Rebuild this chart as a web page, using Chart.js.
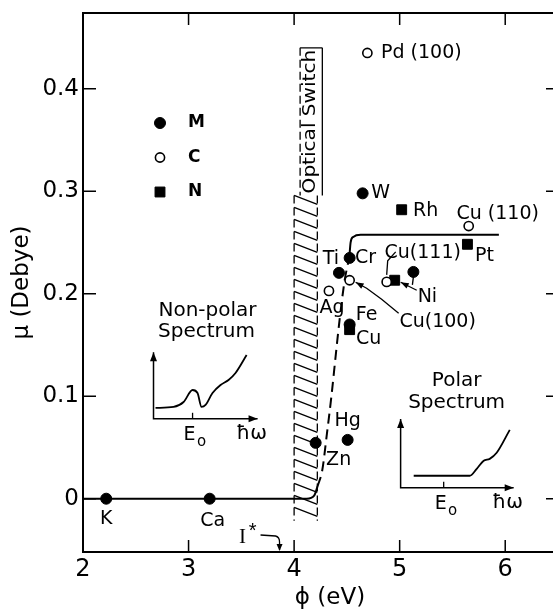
<!DOCTYPE html>
<html>
<head>
<meta charset="utf-8">
<script src="https://cdn.jsdelivr.net/npm/chart.js@4.4.1/dist/chart.umd.min.js"></script>
<style>
  html, body { margin: 0; padding: 0; background: #fff; overflow: hidden; }
  #wrap { width: 553px; height: 613px; overflow: hidden; }
</style>
</head>
<body>
<div id="wrap"><canvas id="dipoleChart" width="559" height="613"></canvas></div>
<script>
// work function phi (eV) against dipole moment mu (Debye)
const xTicks = [2, 3, 4, 5, 6];
const yTicks = [0, 0.1, 0.2, 0.3, 0.4];

// M : filled circles
const mNames = ["K", "Ca", "Zn", "Hg", "Fe", "Ti", "Cr", "W", "Ni"];
const mX = [2.22, 3.2, 4.204, 4.507, 4.526, 4.425, 4.526, 4.649, 5.13];
const mY = [0, 0, 0.0545, 0.0574, 0.170, 0.2204, 0.235, 0.298, 0.2213];

// C : open circles
const cNames = ["Ag", "Cu(100)", "Cu(111)", "Cu (110)", "Pd (100)"];
const cX = [4.33, 4.526, 4.877, 5.654, 4.694];
const cY = [0.2028, 0.2132, 0.2116, 0.2661, 0.435];

// N : filled squares
const nNames = ["Cu", "", "Rh", "Pt"];
const nX = [4.526, 4.953, 5.019, 5.642];
const nY = [0.165, 0.2132, 0.282, 0.2483];

// trend lines
const lowX = [2.0, 4.12, 4.19, 4.222];
const lowY = [0, 0, 0.003, 0.012];
const dashX = [4.222, 4.267, 4.308, 4.353, 4.393, 4.434, 4.479, 4.515];
const dashY = [0.012, 0.028, 0.061, 0.0996, 0.1386, 0.1775, 0.2132, 0.232];
const highX = [4.526, 4.535, 4.56, 4.63, 5.94];
const highY = [0.2395, 0.250, 0.2555, 0.2575, 0.2575];

// optical switch band
const bandX = [4.0, 4.22];
const bandY = [-0.0215, 0.296];
const bandTop = 0.44;

// insets (drawn in the main axes units)
const npAxisX = [2.668, 2.668, 3.654];
const npAxisY = [0.143, 0.078, 0.078];
const npCurveX = [2.687, 2.858, 2.953, 3.038, 3.085, 3.123, 3.161, 3.227, 3.303, 3.379, 3.445, 3.550];
const npCurveY = [0.0886, 0.0896, 0.0944, 0.1061, 0.1032, 0.0896, 0.0915, 0.1032, 0.1110, 0.1159, 0.1227, 0.1402];
const npE0 = 3.038;
const pAxisX = [5.009, 5.009, 6.08];
const pAxisY = [0.0779, 0.0107, 0.0107];
const pCurveX = [5.133, 5.664, 5.730, 5.796, 5.853, 5.919, 6.043];
const pCurveY = [0.0224, 0.0224, 0.0292, 0.0370, 0.0389, 0.0448, 0.0672];
const pE0 = 5.417;
const iStarX = 3.862;

const FONT = "'DejaVu Sans', sans-serif";

const toPts = (xs, ys) => xs.map((v, i) => ({ x: v, y: ys[i] }));

// label placement, pixel offsets from the point
const labelOffsets = {
  m: [[0, 20], [3, 22], [23, 17], [0, -19], [17, -9], [-8, -14], [16, 0], [18, 0], [14, 25]],
  c: [[3, 17], [88, 42], [36, -29], [29, -12], [54, 0]],
  n: [[19, 9], [0, 0], [24, 1], [17, 12]]
};

// leader lines: [series, index, path offsets, arrow at end]
const leaders = [
  ["c", 2, [[9, -30], [1, -21], [0, -7]], false],
  ["n", 1, [[22, 10], [6, 2]], true],
  ["m", 8, [[0, 5], [-1, 13]], false],
  ["c", 1, [[49, 33], [32, 19], [17, 8], [6, 2]], true]
];

const series = { m: [mX, mY, mNames], c: [cX, cY, cNames], n: [nX, nY, nNames] };

const arrowHead = (ctx, x1, y1, x2, y2, len, half) => {
  const a = Math.atan2(y2 - y1, x2 - x1);
  ctx.beginPath();
  ctx.moveTo(x2, y2);
  ctx.lineTo(x2 - len * Math.cos(a) + half * Math.sin(a), y2 - len * Math.sin(a) - half * Math.cos(a));
  ctx.lineTo(x2 - len * Math.cos(a) - half * Math.sin(a), y2 - len * Math.sin(a) + half * Math.cos(a));
  ctx.closePath();
  ctx.fill();
};

const bandPlugin = {
  id: "band",
  beforeDatasetsDraw(chart) {
    const { ctx, scales: { x, y } } = chart;
    const x0 = x.getPixelForValue(bandX[0]);
    const x1 = x.getPixelForValue(bandX[1]);
    const yb = y.getPixelForValue(bandY[0]);
    const yh = y.getPixelForValue(bandY[1]);
    const yt = y.getPixelForValue(bandTop);
    ctx.save();
    ctx.strokeStyle = "#000";
    ctx.fillStyle = "#000";
    ctx.lineWidth = 1.3;
    ctx.setLineDash([8, 4]);
    ctx.beginPath();
    ctx.moveTo(x0, yh); ctx.lineTo(x0, yb);
    ctx.moveTo(x1, yh); ctx.lineTo(x1, yb);
    ctx.moveTo(x0 + 6, yt); ctx.lineTo(x0 + 6, yh);
    ctx.stroke();
    ctx.setLineDash([]);
    ctx.beginPath();
    for (let yy = yh; yy < yb - 6; yy += 12) {
      ctx.moveTo(x0, yy);
      ctx.lineTo(x1, yy + 9);
    }
    // underline and end caps of the label
    ctx.moveTo(x1 + 5, yt); ctx.lineTo(x1 + 5, yh);
    ctx.moveTo(x0 + 6, yt); ctx.lineTo(x1 + 5, yt);
    ctx.stroke();

    ctx.translate(x0 + 16, (yt + yh) / 2);
    ctx.rotate(-Math.PI / 2);
    ctx.font = "17px " + FONT;
    const w = ctx.measureText("Optical Switch").width;
    ctx.scale((yh - yt - 4) / w, 1);
    ctx.textAlign = "center";
    ctx.textBaseline = "middle";
    ctx.fillText("Optical Switch", 0, 0);
    ctx.restore();
  }
};

const decorPlugin = {
  id: "decor",
  afterDatasetsDraw(chart) {
    const { ctx, chartArea: a, scales: { x, y } } = chart;
    ctx.save();
    ctx.strokeStyle = "#000";
    ctx.fillStyle = "#000";

    // frame with inward ticks
    ctx.lineWidth = 2;
    ctx.strokeRect(a.left, a.top, a.right - a.left, a.bottom - a.top);
    ctx.lineWidth = 1.5;
    ctx.beginPath();
    xTicks.slice(1).forEach(v => {
      const px = x.getPixelForValue(v);
      ctx.moveTo(px, a.bottom); ctx.lineTo(px, a.bottom - 12);
      ctx.moveTo(px, a.top); ctx.lineTo(px, a.top + 12);
    });
    yTicks.forEach(v => {
      const py = y.getPixelForValue(v);
      ctx.moveTo(a.left, py); ctx.lineTo(a.left + 13, py);
      ctx.moveTo(a.right, py); ctx.lineTo(a.right - 12, py);
    });
    ctx.stroke();

    // point labels
    ctx.font = "19px " + FONT;
    ctx.textAlign = "center";
    ctx.textBaseline = "middle";
    Object.keys(series).forEach(k => {
      const [xs, ys, names] = series[k];
      names.forEach((t, i) => {
        if (!t) return;
        const px = x.getPixelForValue(xs[i]);
        const py = y.getPixelForValue(ys[i]);
        ctx.fillText(t, px + labelOffsets[k][i][0], py + labelOffsets[k][i][1]);
      });
    });

    // leader lines
    ctx.lineWidth = 1.3;
    leaders.forEach(([k, i, path, arrow]) => {
      const px = x.getPixelForValue(series[k][0][i]);
      const py = y.getPixelForValue(series[k][1][i]);
      const pts = path.map(p => [px + p[0], py + p[1]]);
      ctx.beginPath();
      pts.forEach((p, j) => j ? ctx.lineTo(p[0], p[1]) : ctx.moveTo(p[0], p[1]));
      ctx.stroke();
      if (arrow) {
        const n = pts.length;
        arrowHead(ctx, pts[n - 2][0], pts[n - 2][1], pts[n - 1][0], pts[n - 1][1], 8, 3);
      }
    });

    // legend
    const metas = [0, 1, 2].map(i => chart.getDatasetMeta(i));
    ["M", "C", "N"].forEach((t, i) => {
      const ly = 123 + i * 34.5;
      const opt = metas[i].data[0].options;
      ctx.save();
      ctx.fillStyle = opt.backgroundColor;
      ctx.strokeStyle = opt.borderColor;
      ctx.lineWidth = opt.borderWidth;
      ctx.beginPath();
      if (opt.pointStyle === "rect") {
        const s = Math.SQRT1_2 * opt.radius;
        ctx.rect(160 - s, ly - s, 2 * s, 2 * s);
      } else {
        ctx.arc(160, ly, opt.radius, 0, Math.PI * 2);
      }
      ctx.fill();
      ctx.stroke();
      ctx.restore();
      ctx.font = "bold 17px " + FONT;
      ctx.textAlign = "left";
      ctx.fillText(t, 188, ly);
    });

    // insets: arrows, E0 ticks, texts
    const insets = [
      [npAxisX, npAxisY, npE0, "Non-polar", [54, -108], [53, -87]],
      [pAxisX, pAxisY, pE0, "Polar", [56, -107], [56, -85]]
    ];
    insets.forEach(([ax, ay, e0, word, o1, o2]) => {
      const ox = x.getPixelForValue(ax[1]);
      const oy = y.getPixelForValue(ay[1]);
      const tx = x.getPixelForValue(ax[2]);
      const ty = y.getPixelForValue(ay[0]);
      arrowHead(ctx, ox, oy, ox, ty, 9, 3.5);
      arrowHead(ctx, ox, oy, tx, oy, 9, 3.5);
      const ex = x.getPixelForValue(e0);
      ctx.lineWidth = 1.3;
      ctx.beginPath();
      ctx.moveTo(ex, oy); ctx.lineTo(ex, oy - 6);
      ctx.stroke();
      ctx.textAlign = "center";
      ctx.font = "20px " + FONT;
      ctx.fillText(word, ox + o1[0], oy + o1[1]);
      ctx.fillText("Spectrum", ox + o2[0], oy + o2[1]);
      ctx.font = "19px " + FONT;
      ctx.fillText("E", ex - 3, oy + 16);
      ctx.font = "15px " + FONT;
      ctx.fillText("o", ex + 9, oy + 23);
      ctx.font = "20px " + FONT;
      ctx.fillText("\u0127\u03c9", tx - 6, oy + 15);
    });

    // I* marker
    const ix = x.getPixelForValue(iStarX);
    ctx.font = "21px 'Liberation Serif', serif";
    ctx.fillText("I", ix - 37, a.bottom - 15);
    ctx.font = "20px 'Liberation Sans', sans-serif";
    ctx.fillText("*", ix - 27, a.bottom - 21);
    ctx.lineWidth = 1.3;
    ctx.beginPath();
    ctx.moveTo(ix - 19, a.bottom - 17);
    ctx.lineTo(ix - 4, a.bottom - 16);
    ctx.quadraticCurveTo(ix, a.bottom - 15, ix, a.bottom - 10);
    ctx.lineTo(ix, a.bottom - 2);
    ctx.stroke();
    arrowHead(ctx, ix, a.bottom - 8, ix, a.bottom - 1, 7, 3);

    // axis titles
    ctx.font = "23px " + FONT;
    ctx.textAlign = "center";
    ctx.fillText("\u03d5 (eV)", 330, 598);
    ctx.translate(22, (a.top + a.bottom) / 2);
    ctx.rotate(-Math.PI / 2);
    ctx.fillText("\u03bc (Debye)", 0, 0);
    ctx.restore();
  }
};

const lineStyle = {
  showLine: true, pointRadius: 0, borderColor: "#000", borderWidth: 2, fill: false
};

const chart = new Chart(document.getElementById("dipoleChart"), {
  type: "scatter",
  data: {
    datasets: [
      { label: "M", data: toPts(mX, mY), pointStyle: "circle", radius: 5.5,
        backgroundColor: "#000", borderColor: "#000", borderWidth: 1 },
      { label: "C", data: toPts(cX, cY), pointStyle: "circle", radius: 4.6,
        backgroundColor: "#fff", borderColor: "#000", borderWidth: 1.6 },
      { label: "N", data: toPts(nX, nY), pointStyle: "rect", radius: 7,
        backgroundColor: "#000", borderColor: "#000", borderWidth: 1 },
      { ...lineStyle, data: toPts(lowX, lowY), cubicInterpolationMode: "monotone" },
      { ...lineStyle, data: toPts(dashX, dashY), borderDash: [10, 6], cubicInterpolationMode: "monotone" },
      { ...lineStyle, data: toPts(highX, highY), cubicInterpolationMode: "monotone" },
      { ...lineStyle, data: toPts(npAxisX, npAxisY), borderWidth: 1.5 },
      { ...lineStyle, data: toPts(npCurveX, npCurveY), borderWidth: 1.8, cubicInterpolationMode: "monotone" },
      { ...lineStyle, data: toPts(pAxisX, pAxisY), borderWidth: 1.5 },
      { ...lineStyle, data: toPts(pCurveX, pCurveY), borderWidth: 1.8, cubicInterpolationMode: "monotone" }
    ]
  },
  options: {
    responsive: false,
    animation: false,
    layout: { autoPadding: false, padding: { top: 13, right: 1, left: 0, bottom: 0 } },
    plugins: { legend: { display: false }, tooltip: { enabled: false } },
    scales: {
      x: {
        type: "linear", min: 2, max: 6.5,
        grid: { display: false, drawTicks: false }, border: { display: false },
        ticks: { color: "#000", font: { family: FONT, size: 24 }, padding: 3, maxRotation: 0 },
        afterBuildTicks: s => { s.ticks = xTicks.map(v => ({ value: v })); },
        afterFit: s => { s.height = 61; s.paddingLeft = 0; s.paddingRight = 0; }
      },
      y: {
        type: "linear", min: -0.052, max: 0.474,
        grid: { display: false, drawTicks: false }, border: { display: false },
        ticks: {
          color: "#000", font: { family: FONT, size: 23 }, padding: 4,
          callback: v => v === 0 ? "0" : v.toFixed(1)
        },
        afterBuildTicks: s => { s.ticks = yTicks.map(v => ({ value: v })); },
        afterFit: s => { s.width = 83; s.paddingTop = 0; s.paddingBottom = 0; }
      }
    }
  },
  plugins: [bandPlugin, decorPlugin]
});
</script>
</body>
</html>
